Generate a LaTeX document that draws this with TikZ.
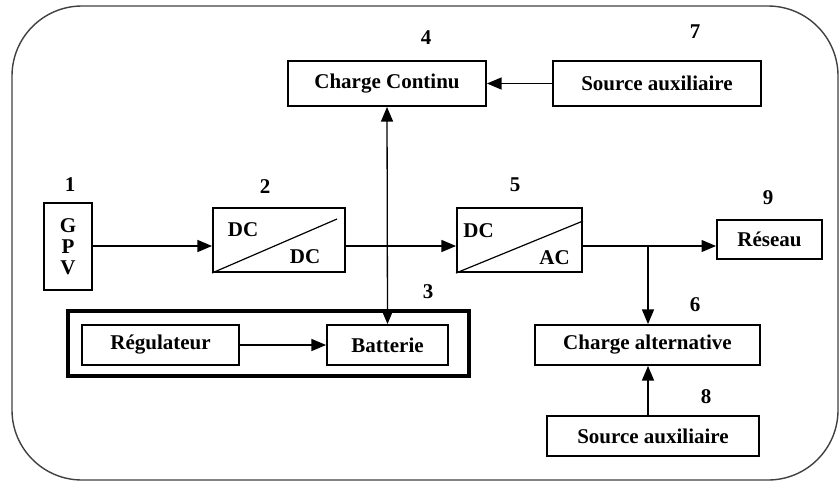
\documentclass[tikz,border=0pt]{standalone}
\usepackage{fontspec}
\setmainfont{Liberation Serif}
\usepackage{tikz}
\usetikzlibrary{arrows}
\tikzset{
bloc/.style={draw, line width=1pt, inner sep=0pt,
    font=\fontsize{10.5}{12}\bfseries\selectfont},
fleche/.style={->, >=triangle 45, line width=0.65pt},
numero/.style={font=\fontsize{10.5}{12}\bfseries\selectfont}
}

\begin{document}
\begin{tikzpicture}[x=0.5pt,y=-0.5pt]
    \useasboundingbox (0,0) rectangle (839,483);
    \draw[black!75, line width=0.7pt, rounded corners=35pt] (12,6) rectangle (838,480);
    % blocs
    \node[bloc, minimum width=24pt, minimum height=43.5pt, align=center] (gpv) at (68,246.5) {G\\[-1.5pt]P\\[-1.5pt]V};
    \node[bloc, minimum width=66pt, minimum height=32pt] (dcdc) at (279,240) {};
    \node[bloc, minimum width=62.5pt, minimum height=32pt] (dcac) at (519.5,240) {};
    \node[bloc, minimum width=52.5pt, minimum height=19.5pt] (reseau) at (769.5,239.5) {R\'eseau};
    \node[bloc, minimum width=99pt, minimum height=22.5pt] (chcont) at (387,83.5) {Charge Continu};
    \node[bloc, minimum width=104pt, minimum height=22.5pt] (srcA) at (657,83.5) {Source auxiliaire};
    \node[draw, line width=2.2pt, minimum width=200.5pt, minimum height=32.5pt] (groupe) at (268.5,343.5) {};
    \node[bloc, minimum width=78.5pt, minimum height=20pt] (regul) at (160.5,345) {R\'egulateur};
    \node[bloc, minimum width=60.5pt, minimum height=20pt] (batt) at (387.5,345) {Batterie};
    \node[bloc, minimum width=112.5pt, minimum height=20pt] (chalt) at (647.5,345) {Charge alternative};
    \node[bloc, minimum width=106pt, minimum height=20pt] (srcB) at (653,436) {Source auxiliaire};
    % convertisseurs
    \draw[line width=0.6pt] (dcdc.south west) -- ([xshift=-4.5pt,yshift=-6pt]dcdc.north east);
    \node[numero] (dcdcin) at ([xshift=-18pt,yshift=5pt]dcdc.center) {DC};
    \node[numero] (dcdcout) at ([xshift=13pt,yshift=-8.5pt]dcdc.center) {DC};
    \draw[line width=0.6pt] (dcac.south west) -- ([yshift=-7pt]dcac.north east);
    \node[numero] (dcacin) at ([xshift=-20.5pt,yshift=4.5pt]dcac.center) {DC};
    \node[numero] (dcacout) at ([xshift=17.5pt,yshift=-9pt]dcac.center) {AC};
    % numeros
    \node[numero] (n1) at (70,185) {1};
    \node[numero] (n2) at (265,187) {2};
    \node[numero] (n3) at (428,292) {3};
    \node[numero] (n4) at (426,38) {4};
    \node[numero] (n5) at (515,185) {5};
    \node[numero] (n6) at (695,305) {6};
    \node[numero] (n7) at (695,32) {7};
    \node[numero] (n8) at (706,397) {8};
    \node[numero] (n9) at (768,198) {9};
    % liaisons
    \coordinate (branche) at (648,246);
    \draw[fleche] ([yshift=-3pt]dcdc.west -| gpv.east) -- ([yshift=-3pt]dcdc.west);
    \draw[fleche] ([yshift=-3pt]dcdc.east) -- ([yshift=-3pt]dcac.west);
    \draw[fleche] ([yshift=-3pt]dcac.east) -- ([yshift=-3pt]dcac.east -| reseau.west);
    \draw[fleche] (branche) -- (branche |- chalt.north);
    \draw[fleche] (srcB.north -| branche) -- (chalt.south -| branche);
    \draw[fleche] (srcA.west) -- (chcont.east);
    \draw[fleche] (regul.east) -- (batt.west);
    \draw[fleche, <->] (chcont.south) -- (batt.north);
\end{tikzpicture}
\end{document}
